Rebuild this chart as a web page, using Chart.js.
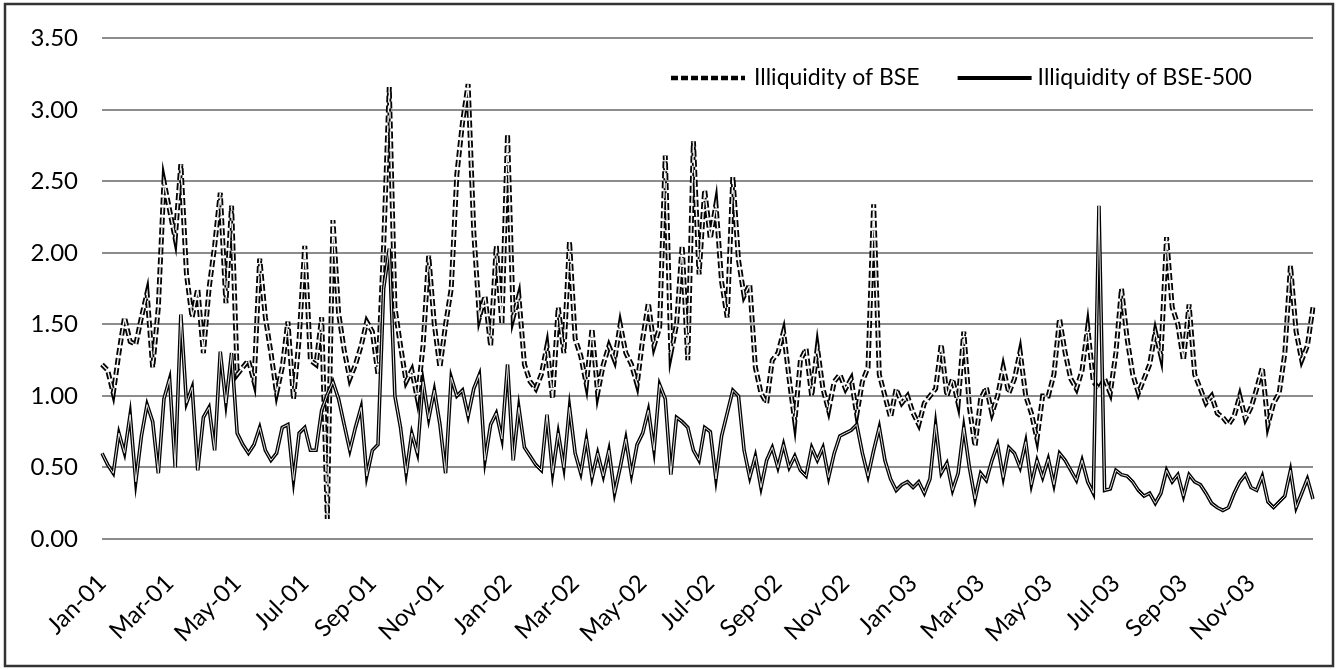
<!DOCTYPE html>
<html><head><meta charset="utf-8">
<script src="https://cdn.jsdelivr.net/npm/chart.js@4.4.1/dist/chart.umd.min.js"></script>
<style>html,body{margin:0;padding:0;background:#fff;}canvas{display:block;}</style>
</head><body>
<canvas id="c" width="1338" height="669"></canvas>
<script>
// ---- categories (months) and tick labels ----
const months = ['Jan-01','Feb-01','Mar-01','Apr-01','May-01','Jun-01','Jul-01','Aug-01','Sep-01','Oct-01','Nov-01','Dec-01',
                'Jan-02','Feb-02','Mar-02','Apr-02','May-02','Jun-02','Jul-02','Aug-02','Sep-02','Oct-02','Nov-02','Dec-02',
                'Jan-03','Feb-03','Mar-03','Apr-03','May-03','Jun-03','Jul-03','Aug-03','Sep-03','Oct-03','Nov-03','Dec-03'];
const tickLabels = ['Jan-01','Mar-01','May-01','Jul-01','Sep-01','Nov-01','Jan-02','Mar-02','May-02','Jul-02',
                    'Sep-02','Nov-02','Jan-03','Mar-03','May-03','Jul-03','Sep-03','Nov-03'];
const seriesNames = ['Illiquidity of BSE','Illiquidity of BSE-500'];

// ---- series values (6 readings per month) ----
const bseValues = [
  1.22,1.18,1.02,1.30,1.55,1.38, 1.36,1.55,1.72,1.20,1.62,2.50, 2.30,2.10,2.62,1.85,1.55,1.75,
  1.30,1.75,2.05,2.42,1.65,2.33, 1.15,1.20,1.25,1.10,1.96,1.55, 1.30,1.02,1.20,1.52,0.98,1.40,
  2.05,1.25,1.22,1.55,0.14,2.23, 1.58,1.32,1.12,1.22,1.35,1.52, 1.45,1.15,2.05,3.16,1.62,1.35,
  1.10,1.18,0.98,1.35,1.98,1.50, 1.20,1.50,1.75,2.55,2.91,3.18, 2.15,1.55,1.70,1.35,2.05,1.50,
  2.83,1.55,1.70,1.22,1.10,1.05, 1.15,1.35,0.98,1.62,1.30,2.08, 1.40,1.28,1.08,1.47,1.02,1.22,
  1.35,1.25,1.50,1.30,1.22,1.08, 1.40,1.65,1.35,1.48,2.68,1.30, 1.50,2.05,1.25,2.78,1.85,2.44,
  2.10,2.34,1.80,1.55,2.53,1.95, 1.70,1.78,1.20,1.02,0.95,1.25, 1.30,1.45,1.12,0.82,1.25,1.33,
  1.00,1.34,1.05,0.90,1.10,1.15, 1.05,1.12,0.87,1.10,1.20,2.34, 1.15,1.00,0.85,1.05,0.95,1.00,
  0.88,0.80,0.95,1.00,1.05,1.36, 1.00,1.12,0.95,1.45,0.92,0.65, 0.98,1.06,0.88,1.00,1.20,1.02,
  1.12,1.31,1.00,0.88,0.70,1.00, 1.00,1.15,1.54,1.30,1.12,1.05, 1.18,1.48,1.10,1.05,1.12,1.02,
  1.30,1.75,1.40,1.15,1.02,1.12, 1.22,1.45,1.28,2.11,1.62,1.50, 1.25,1.64,1.15,1.05,0.95,1.00,
  0.88,0.85,0.80,0.86,1.00,0.84, 0.92,1.05,1.20,0.80,0.95,1.02, 1.30,1.91,1.45,1.25,1.35,1.62
];
const bse500Values = [
  0.60,0.52,0.46,0.74,0.60,0.87, 0.40,0.72,0.94,0.82,0.46,0.98, 1.12,0.50,1.57,0.95,1.06,0.48,
  0.85,0.92,0.62,1.31,0.95,1.30, 0.74,0.66,0.60,0.66,0.78,0.62, 0.55,0.60,0.78,0.80,0.41,0.74,
  0.78,0.62,0.62,0.90,1.01,1.10, 0.98,0.80,0.62,0.78,0.92,0.44, 0.62,0.66,1.75,2.03,1.00,0.78,
  0.46,0.74,0.60,1.10,0.84,1.04, 0.80,0.46,1.13,1.00,1.04,0.86, 1.05,1.15,0.55,0.80,0.88,0.70,
  1.22,0.55,0.92,0.64,0.58,0.52, 0.48,0.87,0.46,0.74,0.50,0.92, 0.60,0.46,0.70,0.43,0.60,0.44,
  0.62,0.32,0.50,0.70,0.45,0.66, 0.74,0.90,0.62,1.08,0.98,0.45, 0.85,0.82,0.78,0.62,0.55,0.78,
  0.75,0.42,0.72,0.88,1.04,1.00, 0.62,0.43,0.58,0.36,0.55,0.64, 0.50,0.66,0.50,0.58,0.48,0.44,
  0.64,0.55,0.64,0.43,0.60,0.72, 0.74,0.76,0.80,0.60,0.44,0.62, 0.78,0.55,0.42,0.34,0.38,0.40,
  0.36,0.40,0.32,0.42,0.80,0.46, 0.53,0.34,0.46,0.78,0.50,0.28, 0.46,0.41,0.55,0.66,0.43,0.64,
  0.60,0.50,0.68,0.38,0.55,0.43, 0.56,0.38,0.60,0.55,0.48,0.41, 0.55,0.40,0.32,2.33,0.34,0.35,
  0.48,0.45,0.44,0.40,0.34,0.30, 0.32,0.25,0.32,0.48,0.40,0.45, 0.30,0.45,0.40,0.38,0.32,0.25,
  0.22,0.20,0.22,0.32,0.40,0.45, 0.36,0.34,0.44,0.26,0.22,0.26, 0.30,0.48,0.22,0.32,0.42,0.28
];

const PER_MONTH = bseValues.length / months.length;
const labels = months.flatMap(m => Array.from({length: PER_MONTH}, (_, k) => m + ' #' + (k + 1)));
const FONT = 'Lato, "Open Sans", sans-serif';
const DASH = [7, 3];

const framePlugin = {
  id: 'frame',
  afterDraw(chart) {
    const c = chart.ctx;
    c.save();
    c.strokeStyle = '#333';
    c.lineWidth = 2.5;
    c.strokeRect(5, 4, chart.width - 10, chart.height - 7);
    c.restore();
  }
};

const legendPlugin = {
  id: 'customLegend',
  afterDatasetsDraw(chart) {
    const c = chart.ctx;
    const y = 78;
    let x = 671;
    c.save();
    c.font = '23px ' + FONT;
    c.textBaseline = 'middle';
    c.fillStyle = '#000';
    chart.data.datasets.slice(0, seriesNames.length).forEach((ds, i) => {
      c.beginPath();
      c.setLineDash(ds.borderDash || []);
      c.lineWidth = i === 0 ? 4.5 : 4;
      c.strokeStyle = '#000';
      c.moveTo(x, y);
      c.lineTo(x + 74, y);
      c.stroke();
      c.setLineDash([]);
      const tx = x + 74 + (i === 0 ? 9 : 6);
      c.fillText(ds.label, tx, y);
      x = tx + c.measureText(ds.label).width + 38;
    });
    c.restore();
  }
};

const base = { pointRadius: 0, tension: 0, fill: false };

new Chart(document.getElementById('c'), {
  type: 'line',
  data: {
    labels: labels,
    datasets: [
      { ...base, label: seriesNames[0], data: bseValues, borderColor: '#000', borderWidth: 5,
        borderDash: DASH, order: 4 },
      { ...base, label: seriesNames[1], data: bse500Values, borderColor: '#000', borderWidth: 3.6,
        order: 2 },
      // light cores that give the scanned "hollow" stroke look
      { ...base, label: seriesNames[0] + ' core', data: bseValues, borderColor: '#f2f2f2', borderWidth: 1.4,
        borderDash: DASH, order: 3 },
      { ...base, label: seriesNames[1] + ' core', data: bse500Values, borderColor: '#e6e6e6', borderWidth: 1,
        order: 1 }
    ]
  },
  options: {
    responsive: false,
    animation: false,
    devicePixelRatio: 1,
    events: [],
    layout: { padding: { top: 35, right: 25, bottom: 0, left: 0 } },
    plugins: { legend: { display: false }, tooltip: { enabled: false } },
    scales: {
      x: {
        type: 'category',
        offset: false,
        grid: { display: false },
        border: { display: false },
        afterBuildTicks: s => { s.ticks = s.ticks.filter(t => t.value % (2 * PER_MONTH) === 0); },
        ticks: {
          autoSkip: false, minRotation: 45, maxRotation: 45, padding: 22, color: '#000',
          font: { family: FONT, size: 24 },
          callback: v => tickLabels[v / (2 * PER_MONTH)]
        },
        afterFit: s => { s.height = 130; }
      },
      y: {
        min: 0, max: 3.5,
        grid: { color: '#8c8c8c', lineWidth: 2, drawTicks: false },
        border: { display: false },
        ticks: { stepSize: 0.5, padding: 24, color: '#000', font: { family: FONT, size: 24 },
          callback: v => Number(v).toFixed(2) },
        afterFit: s => { s.width = 102; }
      }
    }
  },
  plugins: [framePlugin, legendPlugin]
});
</script>
</body></html>
